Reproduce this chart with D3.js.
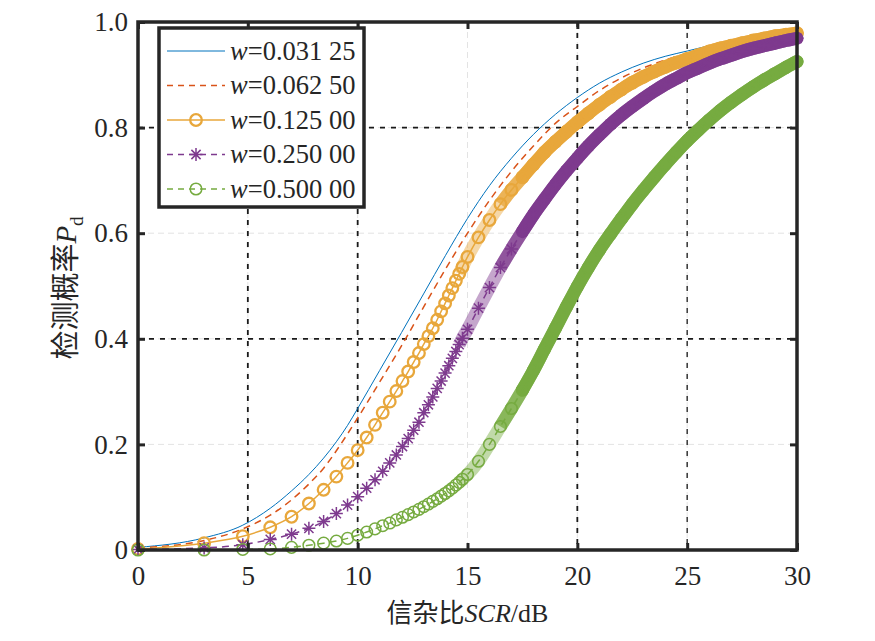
<!DOCTYPE html>
<html>
<head>
<meta charset="utf-8">
<script src="https://cdn.jsdelivr.net/npm/d3@7"></script>
<style>
  body { margin: 0; background: #fff; }
  text { font-family: "Liberation Serif", "Times New Roman", "Noto Sans CJK SC", serif; fill: #262626; }
</style>
</head>
<body>
<div id="chart"></div>
<script>
// SCR sample levels (dB) used by the two plain lines
const scrLine = [0, 3.01, 4.77, 6.02, 6.99, 7.78, 8.45, 9.03, 9.54, 10,
  11, 12, 13, 14, 15, 16, 17, 18, 19, 20, 21, 22, 23, 24, 25, 26, 27, 28, 29, 30];
const pdW1 = [0.005, 0.023, 0.047, 0.079, 0.112, 0.143, 0.174, 0.205, 0.236, 0.268,
  0.34, 0.412, 0.485, 0.558, 0.628, 0.69, 0.742, 0.787, 0.825, 0.857,
  0.884, 0.905, 0.922, 0.935, 0.945, 0.955, 0.963, 0.97, 0.977, 0.983];
const pdW2 = [0.004, 0.018, 0.04, 0.066, 0.095, 0.125, 0.155, 0.188, 0.22, 0.25,
  0.318, 0.387, 0.46, 0.532, 0.6, 0.662, 0.717, 0.765, 0.808, 0.84,
  0.87, 0.894, 0.913, 0.928, 0.94, 0.951, 0.96, 0.968, 0.975, 0.981];

// SCR sample levels (dB) used by the three marked lines
const scrMarker = [0, 3.01, 4.77, 6.02, 6.99, 7.78, 8.45, 9.03, 9.54, 10,
  10.41, 10.79, 11.14, 11.46, 11.76, 12.04, 12.3, 12.55, 12.79, 13.01,
  13.22, 13.42, 13.62, 13.8, 13.98, 14.15, 14.31, 14.47, 14.62, 14.77,
  15, 15.5, 16, 16.5, 17, 17.5, 18, 18.5, 19, 19.5, 20,
  20.5, 21, 21.5, 22, 22.5, 23, 23.5, 24, 24.5, 25,
  25.5, 26, 26.5, 27, 27.5, 28, 28.5, 29, 29.5, 30];
const pdW3 = [0.002, 0.013, 0.026, 0.043, 0.063, 0.088, 0.114, 0.139, 0.165, 0.189,
  0.213, 0.237, 0.26, 0.281, 0.301, 0.32, 0.338, 0.356, 0.373, 0.39,
  0.405, 0.42, 0.436, 0.452, 0.467, 0.482, 0.496, 0.51, 0.523, 0.536,
  0.555, 0.592, 0.625, 0.655, 0.682, 0.706, 0.73, 0.753, 0.773, 0.792, 0.81,
  0.827, 0.843, 0.858, 0.872, 0.885, 0.896, 0.906, 0.915, 0.923, 0.93,
  0.937, 0.944, 0.95, 0.955, 0.96, 0.965, 0.969, 0.973, 0.976, 0.979];
const pdW4 = [0.001, 0.004, 0.01, 0.02, 0.03, 0.041, 0.054, 0.069, 0.085, 0.101,
  0.117, 0.133, 0.149, 0.165, 0.18, 0.196, 0.211, 0.227, 0.242, 0.26,
  0.275, 0.29, 0.306, 0.32, 0.335, 0.349, 0.363, 0.376, 0.389, 0.401,
  0.418, 0.458, 0.497, 0.535, 0.57, 0.603, 0.635, 0.664, 0.692, 0.718, 0.742,
  0.765, 0.786, 0.806, 0.824, 0.84, 0.855, 0.869, 0.882, 0.893, 0.904,
  0.913, 0.922, 0.93, 0.937, 0.944, 0.95, 0.955, 0.96, 0.965, 0.969];
const pdW5 = [0, 0, 0.001, 0.002, 0.005, 0.009, 0.013, 0.017, 0.022, 0.028,
  0.034, 0.04, 0.046, 0.051, 0.057, 0.062, 0.067, 0.072, 0.077, 0.082,
  0.087, 0.092, 0.097, 0.102, 0.107, 0.112, 0.117, 0.123, 0.128, 0.134,
  0.143, 0.168, 0.2, 0.234, 0.268, 0.303, 0.34, 0.38, 0.42, 0.46, 0.499,
  0.535, 0.568, 0.598, 0.627, 0.655, 0.681, 0.706, 0.73, 0.753, 0.775,
  0.795, 0.814, 0.832, 0.848, 0.863, 0.877, 0.89, 0.902, 0.914, 0.925];

const legendLabels = ["0.031 25", "0.062 50", "0.125 00", "0.250 00", "0.500 00"];
const xTicks = [0, 5, 10, 15, 20, 25, 30];
const yTicks = [0, 0.2, 0.4, 0.6, 0.8, 1.0];
// black dashed guide lines
const guideX = [5, 10, 20, 25];
const guideY = [0.4, 0.8];

const margin = { top: 22, right: 78, bottom: 91, left: 138 },
  width = 875 - margin.left - margin.right,
  height = 641 - margin.top - margin.bottom;

const x = d3.scaleLinear().domain([0, 30]).range([0, width]);
const y = d3.scaleLinear().domain([0, 1]).range([height, 0]);

const svg = d3.select("#chart").append("svg")
  .attr("width", 875).attr("height", 641)
  .append("g")
  .attr("transform", "translate(" + margin.left + "," + margin.top + ")");

// light grid
svg.append("g").selectAll("line").data(xTicks.slice(1, -1)).enter().append("line")
  .attr("x1", d => x(d)).attr("x2", d => x(d)).attr("y1", 0).attr("y2", height)
  .attr("stroke", "#e3e3e3").attr("stroke-width", 1).attr("stroke-dasharray", "6,4");
svg.append("g").selectAll("line").data(yTicks.slice(1, -1)).enter().append("line")
  .attr("y1", d => y(d)).attr("y2", d => y(d)).attr("x1", 0).attr("x2", width)
  .attr("stroke", "#e3e3e3").attr("stroke-width", 1).attr("stroke-dasharray", "6,4");

// black dashed guides
svg.append("g").selectAll("line").data(guideX).enter().append("line")
  .attr("x1", d => x(d)).attr("x2", d => x(d)).attr("y1", 0).attr("y2", height)
  .attr("stroke", "#1a1a1a").attr("stroke-width", d => (d == 25 ? 1.3 : 1.8))
  .attr("stroke-dasharray", "5,6");
svg.append("g").selectAll("line").data(guideY).enter().append("line")
  .attr("y1", d => y(d)).attr("y2", d => y(d)).attr("x1", 0).attr("x2", width)
  .attr("stroke", "#1a1a1a").attr("stroke-width", 1.8)
  .attr("stroke-dasharray", "5,6");

const series = [
  { label: legendLabels[0], xs: scrLine, ys: pdW1, color: "#0072BD", lw: 1, dash: null, marker: null },
  { label: legendLabels[1], xs: scrLine, ys: pdW2, color: "#D95319", lw: 1.5, dash: "7,5", marker: null },
  { label: legendLabels[2], xs: scrMarker, ys: pdW3, color: "#E8A73B", lw: 1.5, dash: null, marker: "circle", msw: 2.3 },
  { label: legendLabels[3], xs: scrMarker, ys: pdW4, color: "#7E3A8E", lw: 1.5, dash: "7,5", marker: "star", msw: 1.5 },
  { label: legendLabels[4], xs: scrMarker, ys: pdW5, color: "#76AB40", lw: 1.5, dash: "7,5", marker: "circle", msw: 1.5 },
];

const line = d3.line().x(d => x(d[0])).y(d => y(d[1])).curve(d3.curveMonotoneX);
const starPath = "M-6.5,0H6.5M0,-6.5V6.5M-4.6,-4.6L4.6,4.6M-4.6,4.6L4.6,-4.6";

function drawMarker(g, type, color, sw) {
  if (type == "circle") {
    g.append("circle").attr("r", 5.8).attr("fill", "none")
      .attr("stroke", color).attr("stroke-width", sw);
  } else if (type == "star") {
    g.append("path").attr("d", starPath).attr("fill", "none")
      .attr("stroke", color).attr("stroke-width", sw);
  }
}

series.forEach((s) => {
  const pts = s.xs.map((v, i) => [v, s.ys[i]]);
  // where the markers pile up the curve turns into a band:
  // half-tone where they just overlap, solid further on
  if (s.marker) {
    svg.append("path").datum(pts.filter(d => d[0] >= 14.6 && d[0] <= 17.5))
      .attr("fill", "none").attr("stroke", s.color).attr("stroke-width", 13)
      .attr("stroke-opacity", 0.45).attr("stroke-linejoin", "round")
      .attr("d", line);
    svg.append("path").datum(pts.filter(d => d[0] >= 16.5))
      .attr("fill", "none").attr("stroke", s.color).attr("stroke-width", 13)
      .attr("stroke-opacity", 0.75).attr("stroke-linejoin", "round")
      .attr("d", line);
    svg.append("path").datum(pts.filter(d => d[0] >= 17.5))
      .attr("fill", "none").attr("stroke", s.color).attr("stroke-width", 13)
      .attr("stroke-linecap", "round").attr("stroke-linejoin", "round")
      .attr("d", line);
  }
  svg.append("path").datum(pts)
    .attr("fill", "none").attr("stroke", s.color).attr("stroke-width", s.lw)
    .attr("stroke-dasharray", s.dash)
    .attr("d", line);
  if (s.marker) {
    svg.append("g").selectAll("g").data(pts).enter().append("g")
      .attr("transform", d => "translate(" + x(d[0]) + "," + y(d[1]) + ")")
      .each(function () { drawMarker(d3.select(this), s.marker, s.color, s.msw); });
  }
});

// axes
const fmtY = d => (d == 0 ? "0" : d3.format(".1f")(d));
function styleAxis(g) {
  g.select(".domain").remove();
  g.selectAll(".tick line").attr("stroke", "#262626").attr("stroke-width", 3);
  g.selectAll("text").style("font-size", "27px").attr("fill", "#262626");
}
svg.append("g").attr("transform", "translate(0," + height + ")")
  .call(d3.axisBottom(x).tickValues(xTicks).tickSizeInner(-7).tickSizeOuter(0).tickPadding(16))
  .call(styleAxis);
svg.append("g")
  .call(d3.axisLeft(y).tickValues(yTicks).tickFormat(fmtY).tickSizeInner(-7).tickSizeOuter(0).tickPadding(10))
  .call(styleAxis);
svg.append("g")
  .call(d3.axisTop(x).tickValues(xTicks).tickSizeInner(-7).tickSizeOuter(0).tickFormat(""))
  .call(styleAxis);
svg.append("g").attr("transform", "translate(" + width + ",0)")
  .call(d3.axisRight(y).tickValues(yTicks).tickSizeInner(-7).tickSizeOuter(0).tickFormat(""))
  .call(styleAxis);

svg.append("rect").attr("width", width).attr("height", height)
  .attr("fill", "none").attr("stroke", "#262626").attr("stroke-width", 3.5);

// axis titles
const xl = svg.append("text").attr("x", width / 2).attr("y", height + 72)
  .attr("text-anchor", "middle").style("font-size", "26px");
xl.append("tspan").text("信杂比");
xl.append("tspan").style("font-style", "italic").text("SCR");
xl.append("tspan").text("/dB");

const yl = svg.append("text")
  .attr("transform", "translate(" + (76 - margin.left) + "," + (288 - margin.top) + ") rotate(-90)")
  .attr("text-anchor", "middle").style("font-size", "29px");
yl.append("tspan").text("检测概率");
yl.append("tspan").style("font-style", "italic").text("P");
yl.append("tspan").attr("dy", 7).style("font-size", "19px").text("d");

// legend
const legend = svg.append("g").attr("transform", "translate(21,6)");
legend.append("rect").attr("width", 205).attr("height", 179)
  .attr("fill", "#fff").attr("stroke", "#262626").attr("stroke-width", 3.5);
series.forEach((s, i) => {
  const row = legend.append("g").attr("transform", "translate(0," + (23 + i * 34.5) + ")");
  row.append("line").attr("x1", 8).attr("x2", 66)
    .attr("stroke", s.color).attr("stroke-width", s.lw)
    .attr("stroke-dasharray", s.dash ? "6,5" : null);
  if (s.marker) {
    const m = row.append("g").attr("transform", "translate(37,0)");
    drawMarker(m, s.marker, s.color, s.msw);
  }
  const t = row.append("text").attr("x", 71).attr("y", 8.5).style("font-size", "26.5px");
  t.append("tspan").style("font-style", "italic").text("w");
  t.append("tspan").text("=" + s.label);
});
</script>
</body>
</html>
